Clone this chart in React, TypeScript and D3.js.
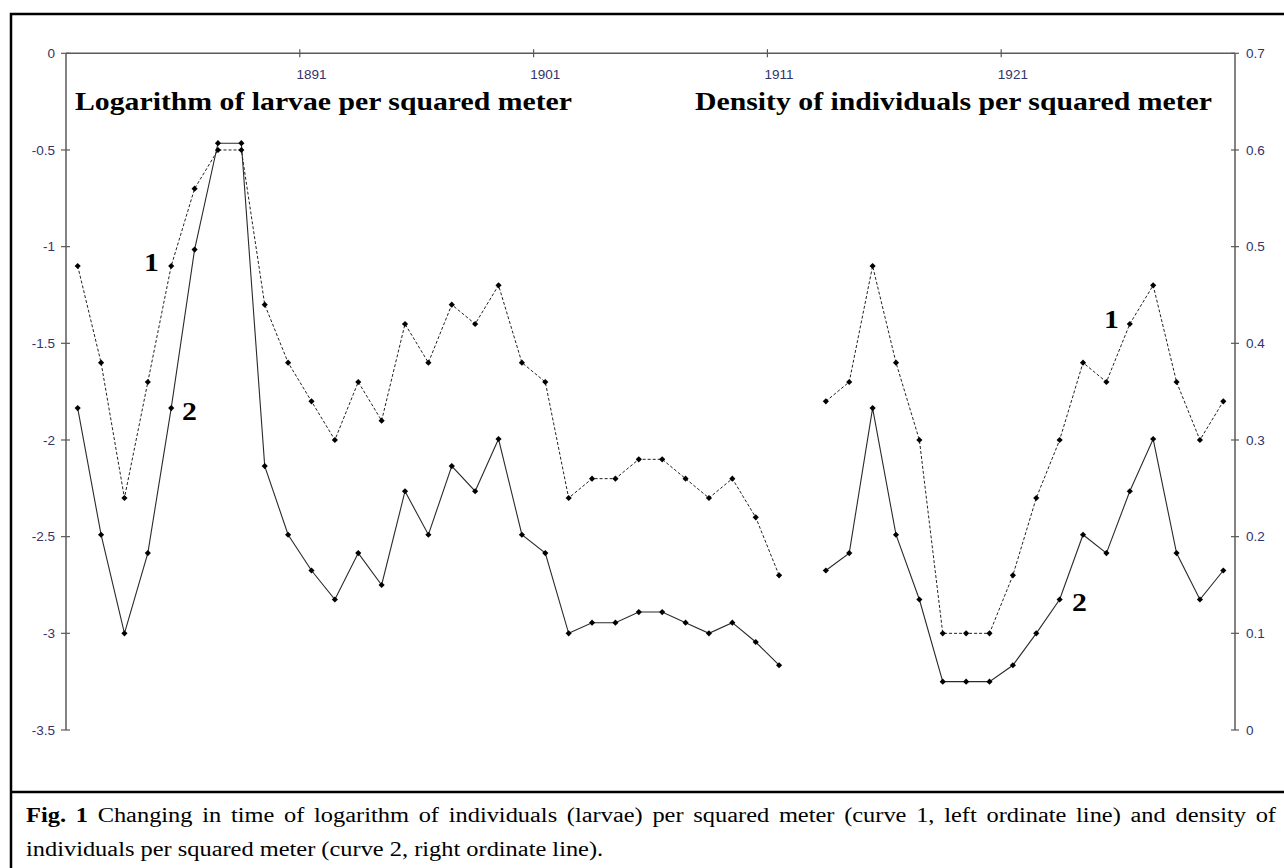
import React from "react";
import * as d3 from "d3";

const years: number[] = d3.range(1881, 1931);
// curve 1: logarithm of larvae per m² (left axis); null = no observation
const logLarvae: (number | null)[] = [
  -1.1, -1.6, -2.3, -1.7, -1.1, -0.7, -0.5, -0.5, -1.3, -1.6,
  -1.8, -2.0, -1.7, -1.9, -1.4, -1.6, -1.3, -1.4, -1.2, -1.6,
  -1.7, -2.3, -2.2, -2.2, -2.1, -2.1, -2.2, -2.3, -2.2, -2.4,
  -2.7, null, -1.8, -1.7, -1.1, -1.6, -2.0, -3.0, -3.0, -3.0,
  -2.7, -2.3, -2.0, -1.6, -1.7, -1.4, -1.2, -1.7, -2.0, -1.8,
];
// curve 2: density of individuals per m² (right axis)
const density: (number | null)[] = [
  0.333, 0.202, 0.100, 0.183, 0.333, 0.497, 0.607, 0.607, 0.273, 0.202,
  0.165, 0.135, 0.183, 0.150, 0.247, 0.202, 0.273, 0.247, 0.301, 0.202,
  0.183, 0.100, 0.111, 0.111, 0.122, 0.122, 0.111, 0.100, 0.111, 0.091,
  0.067, null, 0.165, 0.183, 0.333, 0.202, 0.135, 0.050, 0.050, 0.050,
  0.067, 0.100, 0.135, 0.202, 0.183, 0.247, 0.301, 0.183, 0.135, 0.165,
];
const xTickYears = [1891, 1901, 1911, 1921];
const leftTicks = [0, -0.5, -1, -1.5, -2, -2.5, -3, -3.5];
const rightTicks = [0.7, 0.6, 0.5, 0.4, 0.3, 0.2, 0.1, 0];

const leftTitle = "Logarithm of larvae per squared meter";
const rightTitle = "Density of individuals per squared meter";
const captionLine1Rest =
  " Changing in time of logarithm of individuals (larvae) per squared meter (curve 1, left ordinate line) and density of";
const captionLine2 = "individuals per squared meter (curve 2, right ordinate line).";

const W = 1284;
const H = 868;
const serif = "'Liberation Serif', 'Times New Roman', serif";
const sans = "'Liberation Sans', Arial, sans-serif";
const tickColor = "#33336b";
const axisColor = "#5a5a5a";
const stretch = 1.19;

export default function App() {
  const x = d3.scaleBand<number>().domain(years).range([66, 1235]).padding(0);
  const cx = (yr: number) => (x(yr) as number) + x.bandwidth() / 2;
  const yL = d3.scaleLinear().domain([-3.5, 0]).range([730, 53.3]);
  const yR = d3.scaleLinear().domain([0, 0.7]).range([730, 53.3]);

  const pts1 = years.map((yr, i) => ({ yr, v: logLarvae[i] }));
  const pts2 = years.map((yr, i) => ({ yr, v: density[i] }));

  const line1 = d3
    .line<{ yr: number; v: number | null }>()
    .defined((d) => d.v != null)
    .x((d) => cx(d.yr))
    .y((d) => yL(d.v as number));
  const line2 = d3
    .line<{ yr: number; v: number | null }>()
    .defined((d) => d.v != null)
    .x((d) => cx(d.yr))
    .y((d) => yR(d.v as number));

  const diamond = d3.symbol().type(d3.symbolSquare).size(19)() as string;

  const top = yL(0);
  const bottom = yL(-3.5);
  const left = 66;
  const right = 1235;

  const label = (t: string, lx: number, ly: number) => (
    <text
      x={0}
      y={0}
      transform={`translate(${lx},${ly}) scale(${stretch},1)`}
      fontFamily={serif}
      fontWeight="bold"
      fontSize={25}
      fill="#000"
    >
      {t}
    </text>
  );

  return (
    <div style={{ position: "absolute", left: 0, top: 0 }}>
      <svg width={W} height={H} style={{ display: "block", background: "#fff" }}>
        {/* frame (right and bottom edges lie beyond the picture) */}
        <rect x={11} y={14} width={1290} height={870} fill="none" stroke="#000" strokeWidth={2.5} />
        <line x1={11} x2={1290} y1={792} y2={792} stroke="#000" strokeWidth={2.5} />

        {/* top axis */}
        <line x1={left} x2={right} y1={top} y2={top} stroke={axisColor} strokeWidth={1.5} />
        {xTickYears.map((yr) => (
          <g key={yr}>
            <line x1={x(yr) as number} x2={x(yr) as number} y1={top - 4} y2={top + 4} stroke={axisColor} strokeWidth={1.2} />
            <text x={cx(yr)} y={78.5} textAnchor="middle" fontFamily={sans} fontSize={13.5} fill={tickColor}>
              {yr}
            </text>
          </g>
        ))}

        {/* left axis */}
        <line x1={left} x2={left} y1={top} y2={bottom} stroke={axisColor} strokeWidth={1.5} />
        {leftTicks.map((t) => (
          <g key={t}>
            <line x1={left - 5} x2={left + 4} y1={yL(t)} y2={yL(t)} stroke={axisColor} strokeWidth={1.2} />
            <text x={55} y={yL(t)} dy="0.35em" textAnchor="end" fontFamily={sans} fontSize={13.5} fill={tickColor}>
              {String(t)}
            </text>
          </g>
        ))}

        {/* right axis */}
        <line x1={right} x2={right} y1={top} y2={bottom} stroke={axisColor} strokeWidth={1.5} />
        {rightTicks.map((t) => (
          <g key={t}>
            <line x1={right - 4} x2={right + 4} y1={yR(t)} y2={yR(t)} stroke={axisColor} strokeWidth={1.2} />
            <text x={1246} y={yR(t)} dy="0.35em" textAnchor="start" fontFamily={sans} fontSize={13.5} fill={tickColor}>
              {String(t)}
            </text>
          </g>
        ))}

        {/* titles */}
        <text x={75} y={110} fontFamily={serif} fontWeight="bold" fontSize={25} fill="#000" textLength={497} lengthAdjust="spacingAndGlyphs">
          {leftTitle}
        </text>
        <text x={695} y={110} fontFamily={serif} fontWeight="bold" fontSize={25} fill="#000" textLength={517} lengthAdjust="spacingAndGlyphs">
          {rightTitle}
        </text>

        {/* series */}
        <path d={line1(pts1) as string} fill="none" stroke="#222" strokeWidth={1} strokeDasharray="3,2" />
        <path d={line2(pts2) as string} fill="none" stroke="#2a2a2a" strokeWidth={1.1} />
        {pts1
          .filter((d) => d.v != null)
          .map((d) => (
            <path key={"a" + d.yr} d={diamond} transform={`translate(${cx(d.yr)},${yL(d.v as number)}) rotate(45)`} fill="#000" />
          ))}
        {pts2
          .filter((d) => d.v != null)
          .map((d) => (
            <path key={"b" + d.yr} d={diamond} transform={`translate(${cx(d.yr)},${yR(d.v as number)}) rotate(45)`} fill="#000" />
          ))}

        {/* curve labels */}
        {label("1", 144, 271)}
        {label("2", 182, 420)}
        {label("1", 1104, 328)}
        {label("2", 1072, 611)}

        {/* caption */}
        <foreignObject x={26} y={798} width={1258} height={70}>
          <div
            style={{
              fontFamily: serif,
              fontSize: 20.5,
              lineHeight: "34px",
              color: "#000",
              width: 1250 / stretch,
              transform: `scaleX(${stretch})`,
              transformOrigin: "0 0",
            }}
          >
            <div style={{ textAlign: "justify", textAlignLast: "justify", whiteSpace: "nowrap" as any }}>
              <b>Fig. 1</b>
              {captionLine1Rest}
            </div>
            <div style={{ whiteSpace: "nowrap" as any }}>{captionLine2}</div>
          </div>
        </foreignObject>
      </svg>
    </div>
  );
}
